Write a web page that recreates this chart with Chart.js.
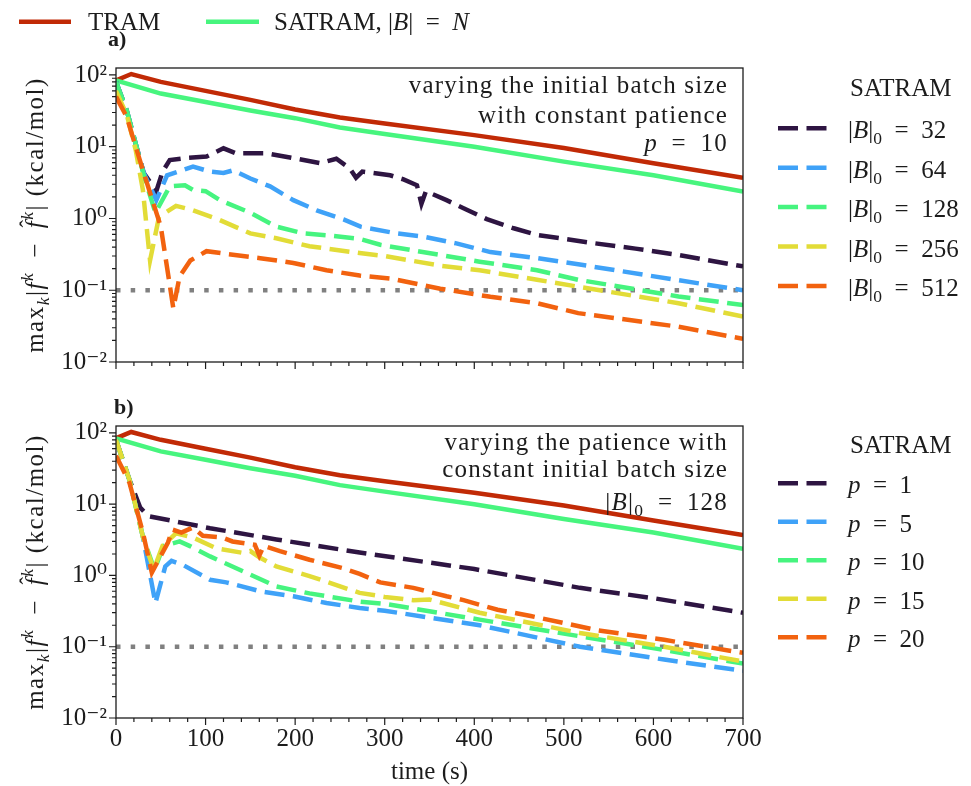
<!DOCTYPE html>
<html>
<head>
<meta charset="utf-8">
<script src="https://cdn.jsdelivr.net/npm/chart.js@4.4.0/dist/chart.umd.min.js"></script>
<style>
  html, body { margin: 0; padding: 0; background: #fff; }
  #wrap { position: relative; width: 971px; height: 786px; }
  canvas { position: absolute; left: 0; }
  #chartA { top: 0; }
  #chartB { top: 395px; }
</style>
</head>
<body>
<div id="wrap">
  <canvas id="chartA" width="971" height="395"></canvas>
  <canvas id="chartB" width="971" height="391"></canvas>
</div>
<script>
// axes
const timeTicks = [0, 100, 200, 300, 400, 500, 600, 700];
const decadeTicks = [0.01, 0.1, 1, 10, 100];
const decadeLabels = ['10\u207B\u00B2', '10\u207B\u00B9', '10\u2070', '10\u00B9', '10\u00B2'];

// legend parameters
const batchSizes = [32, 64, 128, 256, 512];
const patiences = [1, 5, 10, 15, 20];

// TRAM and SATRAM with |B| = N (both panels)
const tramTime = [0, 17, 50, 100, 150, 200, 250, 300, 400, 500, 600, 700];
const tramErr = [84, 103, 80, 60, 45, 33, 25.5, 21, 14.5, 9.6, 5.9, 3.7];
const fullTime = [0, 50, 100, 150, 200, 250, 300, 400, 500, 600, 700];
const fullErr = [84, 55, 42, 32, 25, 18.5, 15, 10, 6.2, 4.0, 2.37];

// panel a: varying initial batch size, p = 10
const b32Time = [0, 12, 22, 31, 45, 52, 60, 80, 101, 120, 134, 168, 202, 228, 246, 261, 268, 275, 306, 321, 336, 341, 346, 369, 388, 414, 444, 470, 535, 580, 628, 700];
const b32Err = [80, 32, 11, 4.3, 2.4, 4.5, 6.5, 7.0, 7.3, 9.5, 8.1, 8.1, 6.8, 5.9, 6.8, 5.0, 3.7, 4.5, 4.0, 3.5, 2.9, 1.6, 2.4, 1.8, 1.39, 0.98, 0.73, 0.59, 0.45, 0.38, 0.31, 0.215];
const b64Time = [0, 12, 22, 31, 45, 57, 86, 105, 120, 131, 150, 172, 198, 224, 254, 273, 313, 343, 380, 418, 470, 516, 591, 700];
const b64Err = [80, 32, 11, 4.3, 1.8, 4.0, 5.3, 4.5, 4.3, 4.7, 3.6, 2.8, 1.8, 1.3, 0.97, 0.77, 0.62, 0.56, 0.45, 0.34, 0.28, 0.23, 0.163, 0.1];
const b128Time = [0, 12, 22, 31, 44, 60, 77, 86, 100, 116, 150, 179, 209, 238, 272, 295, 362, 406, 470, 516, 628, 700];
const b128Err = [80, 32, 11, 4.0, 1.2, 2.8, 2.9, 2.5, 2.4, 1.8, 1.2, 0.77, 0.62, 0.58, 0.52, 0.43, 0.31, 0.25, 0.19, 0.14, 0.082, 0.062];
const b256Time = [0, 12, 22, 30, 38, 48, 67, 86, 116, 150, 179, 216, 272, 300, 362, 406, 470, 516, 628, 700];
const b256Err = [60, 28, 9, 2.5, 0.26, 1.05, 1.5, 1.3, 0.95, 0.62, 0.53, 0.41, 0.33, 0.30, 0.22, 0.19, 0.14, 0.112, 0.066, 0.043];
const b512Time = [0, 12, 22, 31, 50, 64, 71, 83, 101, 124, 161, 198, 235, 272, 306, 362, 418, 470, 516, 628, 700];
const b512Err = [50, 26, 10, 4.3, 0.77, 0.056, 0.155, 0.26, 0.35, 0.32, 0.28, 0.24, 0.19, 0.16, 0.146, 0.105, 0.081, 0.066, 0.048, 0.031, 0.021];

// panel b: varying patience, |B|0 = 128
const p1Time = [0, 15, 27, 36, 105, 179, 272, 400, 518, 600, 700];
const p1Err = [80, 22, 9, 6.8, 4.6, 3.2, 2.1, 1.23, 0.67, 0.48, 0.30];
const p5Time = [0, 15, 30, 44, 55, 62, 75, 105, 123, 161, 198, 235, 272, 300, 406, 518, 612, 700];
const p5Err = [80, 22, 3.5, 0.41, 1.34, 1.6, 1.4, 0.87, 0.8, 0.6, 0.51, 0.41, 0.35, 0.32, 0.2, 0.1, 0.066, 0.046];
const p10Time = [0, 15, 30, 43, 53, 71, 82, 105, 142, 179, 216, 272, 300, 406, 518, 612, 700];
const p10Err = [80, 22, 3.5, 1.2, 2.6, 3.0, 2.6, 1.85, 1.14, 0.70, 0.56, 0.43, 0.40, 0.24, 0.14, 0.09, 0.058];
const p15Time = [0, 15, 30, 42, 52, 67, 86, 112, 142, 150, 160, 179, 216, 272, 300, 332, 350, 406, 518, 612, 700];
const p15Err = [80, 22, 3.5, 1.2, 2.6, 3.9, 3.4, 2.4, 2.07, 2.2, 1.8, 1.34, 0.98, 0.57, 0.5, 0.45, 0.46, 0.30, 0.156, 0.10, 0.062];
const p20Time = [0, 15, 30, 40, 58, 63, 73, 86, 97, 119, 130, 155, 160, 165, 183, 216, 253, 272, 295, 332, 369, 388, 426, 463, 538, 612, 700];
const p20Err = [48, 20, 4, 1.1, 2.9, 4.4, 4.0, 4.7, 3.6, 3.4, 3.0, 2.7, 1.9, 2.6, 2.2, 1.66, 1.27, 1.05, 0.8, 0.67, 0.51, 0.45, 0.33, 0.27, 0.17, 0.125, 0.082];

// convergence threshold
const thresholdTime = [0, 700];
const thresholdErr = [0.1, 0.1];

const FAM = '"Liberation Serif", "DejaVu Serif", serif';
const INK = '#1c1c1c';
const RED = '#c12a06';
const LIGHTGREEN = '#47f57e';
const dashColors = ['#2e1542', '#3fa2f8', '#46f47f', '#e2dc37', '#f2620f'];
const DASH = [20, 8.5];

// minor ticks
const minorTime = [];
for (let t = 0; t <= 700; t += 20) minorTime.push(t);
const logTicks = [];
decadeTicks.forEach((d, i) => {
  logTicks.push(d);
  if (i < decadeTicks.length - 1) for (let k = 2; k <= 9; k++) logTicks.push(d * k);
});

function pts(ts, vs) { return ts.map((t, i) => ({ x: t, y: vs[i] })); }

function line(label, color, ts, vs, order, dash, row) {
  return {
    label, data: pts(ts, vs), borderColor: color, backgroundColor: color,
    borderWidth: 4.5, borderDash: dash || [], borderCapStyle: 'butt',
    pointRadius: 0, tension: 0, order, legendRow: row
  };
}

// draw a line of mixed text: [text, kind]; kind: i italic, b subscript, p superscript, h hat
function rich(ctx, parts, x, y, size, align, spacing) {
  const fontOf = (k, s) => (k.includes('i') ? 'italic ' : '') + s + 'px ' + FAM;
  ctx.letterSpacing = (spacing || 0) + 'px';
  const items = parts.map(([t, k = '']) => {
    const small = k.includes('b') || k.includes('p');
    const s = small ? size * 0.7 : size;
    ctx.font = fontOf(k, s);
    const dy = k.includes('b') ? size * 0.24 : (k.includes('p') ? -size * 0.4 : 0);
    return { t, k, s, dy, w: ctx.measureText(t).width };
  });
  const total = items.reduce((a, it) => a + it.w, 0);
  let cx = align === 'right' ? x - total : (align === 'center' ? x - total / 2 : x);
  ctx.textAlign = 'left';
  ctx.textBaseline = 'alphabetic';
  items.forEach(it => {
    ctx.font = fontOf(it.k, it.s);
    ctx.fillText(it.t, cx, y + it.dy);
    if (it.k.includes('h')) {
      ctx.font = (it.s * 0.9) + 'px ' + FAM;
      ctx.textAlign = 'center';
      ctx.fillText('\u02C6', cx + it.w * 0.62, y - it.s * 0.3);
      ctx.textAlign = 'left';
    }
    cx += it.w;
  });
  ctx.letterSpacing = '0px';
  return total;
}

const EQ = '\u2002=\u2002';
const yLabelParts = [['max'], ['k', 'ib'], ['|'], ['f', 'i'], ['k', 'ip'], ['\u2002\u2212\u2002'], ['f', 'ih'], ['k', 'ip'], ['| (kcal/mol)']];

const decorPlugin = {
  id: 'decor',
  afterDraw(chart, args, opts) {
    const { ctx, chartArea: a, scales: { x, y } } = chart;
    ctx.save();
    ctx.strokeStyle = INK;
    ctx.fillStyle = INK;
    ctx.lineWidth = 1.2;
    // tick marks
    ctx.beginPath();
    x.ticks.forEach(t => {
      const px = x.getPixelForValue(t.value);
      const len = timeTicks.includes(t.value) ? 7 : 4;
      ctx.moveTo(px, a.bottom); ctx.lineTo(px, a.bottom + len);
    });
    y.ticks.forEach(t => {
      const py = y.getPixelForValue(t.value);
      const len = decadeTicks.includes(t.value) ? 7 : 4;
      ctx.moveTo(a.left, py); ctx.lineTo(a.left - len, py);
    });
    ctx.stroke();
    // frame
    ctx.lineWidth = 1.3;
    ctx.strokeRect(a.left, a.top, a.right - a.left, a.bottom - a.top);

    // annotation (top right inside axes)
    opts.note.forEach((parts, i) => rich(ctx, parts, 728, opts.noteY[i], 25, 'right', 1.2));

    // right legend
    rich(ctx, [['SATRAM']], 850, opts.headY, 25, 'left');
    chart.data.datasets.forEach(ds => {
      if (ds.legendRow === undefined) return;
      const ly = opts.rowY0 + ds.legendRow * opts.rowStep;
      ctx.save();
      ctx.strokeStyle = ds.borderColor;
      ctx.lineWidth = 4.5;
      ctx.setLineDash(DASH);
      ctx.beginPath(); ctx.moveTo(778, ly); ctx.lineTo(829, ly); ctx.stroke();
      ctx.restore();
      rich(ctx, opts.rowText(ds.legendRow), 848, ly + 10, 25, 'left');
    });

    // panel letter
    ctx.font = 'bold 22px ' + FAM;
    ctx.textAlign = 'left';
    ctx.textBaseline = 'alphabetic';
    ctx.fillText(opts.letter, opts.letterX, opts.letterY);

    // y axis label
    ctx.save();
    ctx.translate(43, (a.top + a.bottom) / 2);
    ctx.rotate(-Math.PI / 2);
    rich(ctx, yLabelParts, 0, 0, 25, 'center', 1.5);
    ctx.restore();

    // top legend
    if (opts.topLegend) {
      ctx.lineWidth = 4.5;
      ctx.strokeStyle = RED;
      ctx.beginPath(); ctx.moveTo(19, 21.7); ctx.lineTo(71, 21.7); ctx.stroke();
      ctx.strokeStyle = LIGHTGREEN;
      ctx.beginPath(); ctx.moveTo(206, 21.7); ctx.lineTo(259, 21.7); ctx.stroke();
      rich(ctx, [['TRAM']], 88, 29.5, 25, 'left');
      rich(ctx, [['SATRAM, |'], ['B', 'i'], ['|' + EQ], ['N', 'i']], 274, 29.5, 25, 'left');
    }
    ctx.restore();
  }
};

function makeOptions(panel, height, top, bottom, decor) {
  return {
    responsive: false,
    animation: false,
    devicePixelRatio: 1,
    layout: { padding: { left: 0, right: 228, top: top, bottom: 0 } },
    plugins: { legend: { display: false }, tooltip: { enabled: false }, decor: decor },
    scales: {
      x: {
        type: 'linear', min: 0, max: 700,
        grid: { display: false, drawTicks: false },
        border: { display: false },
        afterBuildTicks: s => { s.ticks = minorTime.map(v => ({ value: v })); },
        afterFit: s => { s.height = height - bottom; },
        ticks: {
          autoSkip: false, maxRotation: 0, padding: 6, color: INK,
          font: { family: FAM, size: 25 },
          callback: v => (panel === 'b' && timeTicks.includes(v)) ? String(v) : ''
        },
        title: {
          display: panel === 'b', text: 'time (s)', color: INK,
          font: { family: FAM, size: 25, lineHeight: 1.1 },
          padding: { top: 0, bottom: 0 }
        }
      },
      y: {
        type: 'logarithmic', min: 0.01, max: 125,
        grid: { display: false, drawTicks: false },
        border: { display: false },
        afterBuildTicks: s => { s.ticks = logTicks.map(v => ({ value: v })); },
        afterFit: s => { s.width = 116; },
        ticks: {
          autoSkip: false, padding: 9, color: INK,
          font: { family: FAM, size: 25 },
          callback: v => { const i = decadeTicks.indexOf(v); return i >= 0 ? decadeLabels[i] : ''; }
        }
      }
    }
  };
}

const dsA = [
  line('threshold', '#808080', thresholdTime, thresholdErr, 9, [4.5, 10.2]),
  line('TRAM', RED, tramTime, tramErr, 7),
  line('SATRAM, |B| = N', LIGHTGREEN, fullTime, fullErr, 6),
  line('|B|0 = 32', dashColors[0], b32Time, b32Err, 5, DASH, 0),
  line('|B|0 = 64', dashColors[1], b64Time, b64Err, 4, DASH, 1),
  line('|B|0 = 128', dashColors[2], b128Time, b128Err, 3, DASH, 2),
  line('|B|0 = 256', dashColors[3], b256Time, b256Err, 2, DASH, 3),
  line('|B|0 = 512', dashColors[4], b512Time, b512Err, 1, DASH, 4)
];

const dsB = [
  line('threshold', '#808080', thresholdTime, thresholdErr, 9, [4.5, 10.2]),
  line('TRAM', RED, tramTime, tramErr, 7),
  line('SATRAM, |B| = N', LIGHTGREEN, fullTime, fullErr, 6),
  line('p = 1', dashColors[0], p1Time, p1Err, 5, DASH, 0),
  line('p = 5', dashColors[1], p5Time, p5Err, 4, DASH, 1),
  line('p = 10', dashColors[2], p10Time, p10Err, 3, DASH, 2),
  line('p = 15', dashColors[3], p15Time, p15Err, 2, DASH, 3),
  line('p = 20', dashColors[4], p20Time, p20Err, 1, DASH, 4)
];

new Chart(document.getElementById('chartA'), {
  type: 'line',
  data: { datasets: dsA },
  options: makeOptions('a', 395, 68, 362, {
    note: [
      [['varying the initial batch size']],
      [['with constant patience']],
      [['p', 'i'], [EQ + '10']]
    ],
    noteY: [93, 123, 151],
    headY: 96, rowY0: 128.3, rowStep: 39.4,
    rowText: i => [['|'], ['B', 'i'], ['|'], ['0', 'b'], [EQ + batchSizes[i]]],
    letter: 'a)', letterX: 108, letterY: 46,
    topLegend: true
  }),
  plugins: [decorPlugin]
});

new Chart(document.getElementById('chartB'), {
  type: 'line',
  data: { datasets: dsB },
  options: makeOptions('b', 391, 31, 323, {
    note: [
      [['varying the patience with']],
      [['constant initial batch size']],
      [['|'], ['B', 'i'], ['|'], ['0', 'b'], [EQ + '128']]
    ],
    noteY: [55, 82, 115],
    headY: 58, rowY0: 88.3, rowStep: 38.5,
    rowText: i => [['p', 'i'], [EQ + patiences[i]]],
    letter: 'b)', letterX: 114, letterY: 19,
    topLegend: false
  }),
  plugins: [decorPlugin]
});
</script>
</body>
</html>
